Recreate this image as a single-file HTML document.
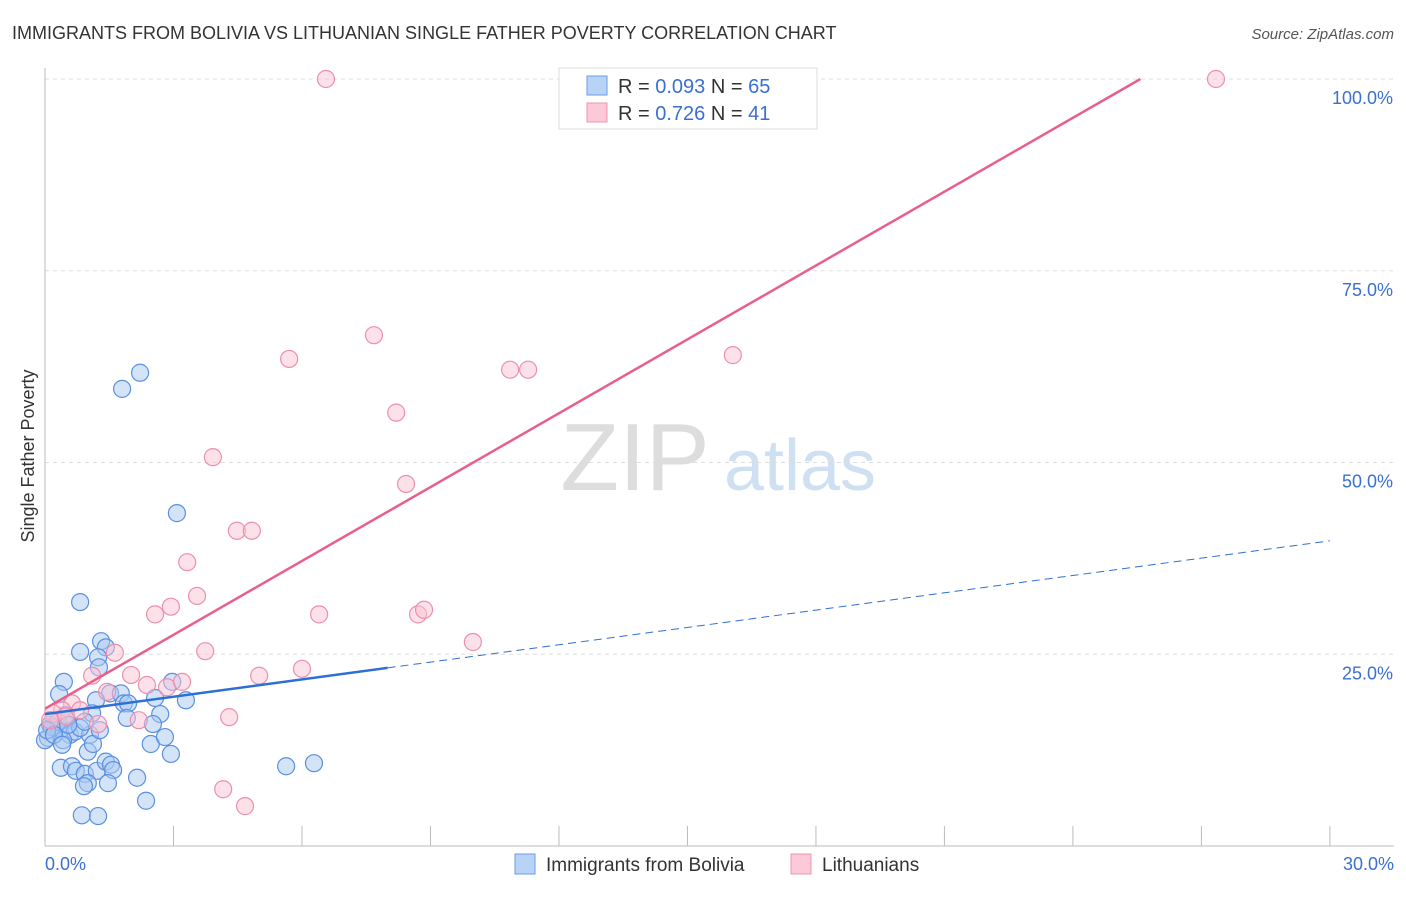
<!DOCTYPE html>
<html><head><meta charset="utf-8"><style>
body{margin:0;background:#fff;font-family:"Liberation Sans",sans-serif}
svg text{font-family:"Liberation Sans",sans-serif}
</style></head><body>
<svg id="chart" width="1406" height="892" viewBox="0 0 1406 892">
<text x="12" y="39" font-size="18" fill="#333">IMMIGRANTS FROM BOLIVIA VS LITHUANIAN SINGLE FATHER POVERTY CORRELATION CHART</text>
<text x="1394" y="39" font-size="15" fill="#555" font-style="italic" text-anchor="end">Source: ZipAtlas.com</text>
<g><text x="635" y="490" font-size="96" fill="#ddd" font-family="Liberation Serif,serif" text-anchor="middle">ZIP</text><text x="800" y="490" font-size="72" fill="#cfe0f3" text-anchor="middle">atlas</text></g>
<g id="grid"></g>
<g id="axes"></g>
<g id="pts"></g>
<g id="trend"></g>
<text transform="translate(34,456) rotate(-90)" font-size="18" fill="#333" text-anchor="middle">Single Father Poverty</text>
<text x="45" y="870" font-size="18" fill="#3b6fd1">0.0%</text>
<text x="1394" y="870" font-size="18" fill="#3b6fd1" text-anchor="end">30.0%</text>
<g>
<rect x="559" y="68" width="258" height="61" fill="#fff" stroke="#ddd"/>
<rect x="587" y="76" width="20" height="19" fill="#b8d3f5" stroke="#6a9ee6"/>
<rect x="587" y="103" width="20" height="19" fill="#fcc9d8" stroke="#ee94b1"/>
<text x="618" y="93" font-size="20" fill="#333">R = <tspan fill="#3b6fd1">0.093</tspan>   N = <tspan fill="#3b6fd1">65</tspan></text>
<text x="618" y="120" font-size="20" fill="#333">R = <tspan fill="#3b6fd1"> 0.726</tspan>   N = <tspan fill="#3b6fd1"> 41</tspan></text>
</g>
<g>
<rect x="515" y="854" width="20" height="20" fill="#b8d3f5" stroke="#6a9ee6"/>
<text x="546" y="871" font-size="19" fill="#333">Immigrants from Bolivia</text>
<rect x="791" y="854" width="20" height="20" fill="#fcc9d8" stroke="#ee94b1"/>
<text x="822" y="871" font-size="19" fill="#333">Lithuanians</text>
</g>
</svg>
<script>
const yTicks=[25,50,75,100];
const yTickLabels=["25.0%","50.0%","75.0%","100.0%"];
const xTicks=[0,3,6,9,12,15,18,21,24,27,30];
const bluePx=[[80,602],[140,373],[122,389],[177,513],[101,641],[106,647],[80,652],[98,657],[99,667],[64,682],[59,694],[172,682],[186,700],[110,693],[121,693],[124,703],[128,703],[96,700],[92,713],[155,698],[160,714],[127,718],[153,724],[67,720],[50,725],[55,728],[60,730],[48,738],[70,735],[75,732],[90,735],[63,740],[88,752],[151,744],[165,737],[171,754],[61,768],[72,766],[76,771],[85,774],[97,771],[106,762],[111,765],[113,770],[88,783],[84,786],[108,783],[137,778],[146,801],[82,815],[98,816],[286,766],[314,763],[45,740],[52,727],[58,722],[66,715],[93,744],[80,728],[47,730],[54,735],[62,745],[68,725],[85,722],[100,730]];
const pinkPx=[[326,79],[1216,79],[374,335],[289,359],[733,355],[510,370],[528,370],[396,413],[213,457],[406,484],[237,531],[252,531],[187,562],[197,596],[171,607],[155,614],[319,614],[418,614],[424,610],[473,642],[115,653],[205,651],[302,669],[131,675],[92,676],[259,676],[147,685],[167,687],[182,682],[107,692],[72,703],[62,710],[229,717],[139,720],[98,724],[53,713],[66,716],[80,710],[223,789],[245,806],[50,720]];
// data values (x %, y %)
const blueX=bluePx.map(p=>+((p[0]-45)/42.83).toFixed(2));
const blueY=bluePx.map(p=>+((846-p[1])/7.67).toFixed(1));
const pinkX=pinkPx.map(p=>+((p[0]-45)/42.83).toFixed(2));
const pinkY=pinkPx.map(p=>+((846-p[1])/7.67).toFixed(1));
const blueTrend=[17.2,0.753];
const pinkTrend=[17.9,3.21];
const X=v=>45+v*42.83, Y=v=>846-v*7.67;
const NS="http://www.w3.org/2000/svg";
function mk(t,a,p){const e=document.createElementNS(NS,t);for(const k in a)e.setAttribute(k,a[k]);p.appendChild(e);return e;}
const g=document.getElementById('grid'),ax=document.getElementById('axes'),pt=document.getElementById('pts'),tr=document.getElementById('trend');
yTicks.forEach((t,i)=>{
 const l=mk('line',{x1:45,x2:1394,y1:Y(t),y2:Y(t),stroke:'#ddd','stroke-dasharray':'4,4'},g);
 
 
 const tx=mk('text',{x:1393,y:Y(t)+25,'font-size':18,fill:'#3b6fd1','text-anchor':'end'},ax);tx.textContent=yTickLabels[i];
 
 
});
mk('line',{x1:45,x2:45,y1:68,y2:846,stroke:'#bbb'},ax);
mk('line',{x1:45,x2:1394,y1:846,y2:846,stroke:'#bbb'},ax);
xTicks.forEach(t=>{const l=mk('line',{x1:X(t),x2:X(t),y1:826,y2:846,stroke:'#bbb'},ax);
 
 });
function pts(xs,ys,fill,stroke,name){xs.forEach((x,i)=>{const c=mk('circle',{cx:X(x),cy:Y(ys[i]),r:8.5,fill:fill,'fill-opacity':0.5,stroke:stroke,'stroke-width':1.2},pt);
 
 });}
pts(blueX,blueY,'#a9c9f2','#5b8fe0','bolivia-point');
pts(pinkX,pinkY,'#fbc3d4','#ec8fae','lithuanian-point');
const bEnd=8.0;
let l=mk('line',{x1:X(0),y1:Y(blueTrend[0]),x2:X(bEnd),y2:Y(blueTrend[0]+blueTrend[1]*bEnd),stroke:'#2e6fd6','stroke-width':2.5},tr);


l=mk('line',{x1:X(bEnd),y1:Y(blueTrend[0]+blueTrend[1]*bEnd),x2:X(30),y2:Y(blueTrend[0]+blueTrend[1]*30),stroke:'#2e6fd6','stroke-width':1,'stroke-dasharray':'8,5'},tr);


const pEnd=(100-pinkTrend[0])/pinkTrend[1];
l=mk('line',{x1:X(0),y1:Y(pinkTrend[0]),x2:X(pEnd),y2:Y(100),stroke:'#e8608a','stroke-width':2.5},tr);


</script>
</body></html>
